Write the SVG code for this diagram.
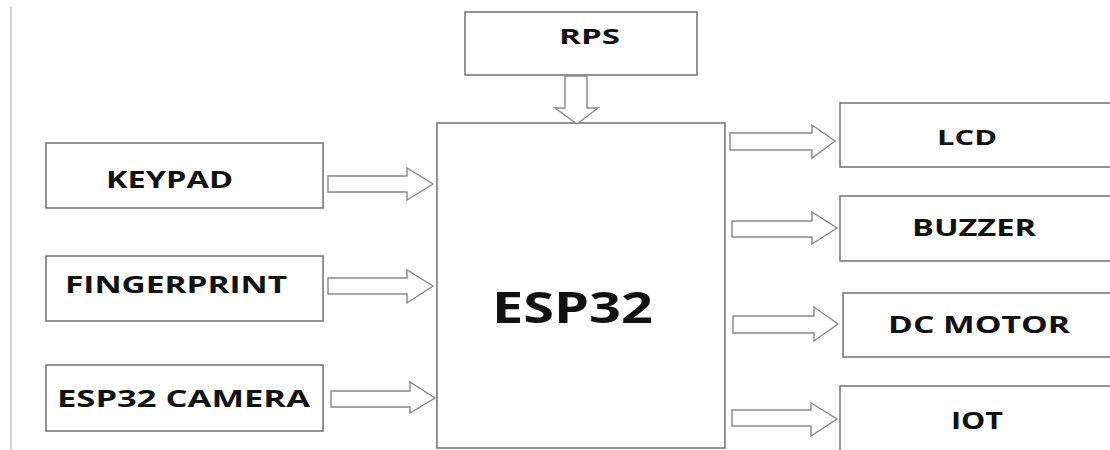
<svg xmlns="http://www.w3.org/2000/svg" width="1110" height="450" viewBox="0 0 1110 450">
<style>
.box{fill:#fff;stroke:#7a7a7a;stroke-width:1.6}
.lbl{font-family:"Open Sans","Liberation Sans",sans-serif;font-weight:bold;font-size:24px;fill:#111}
.big{font-size:43px}
.sm{font-size:21px}
.arr{fill:#fff;stroke:#888;stroke-width:1.4;stroke-linejoin:miter}
</style>
<rect width="1110" height="450" fill="#fff"/>
<line x1="11" y1="7" x2="11" y2="450" stroke="#d4d4d4" stroke-width="2"/>

<g id="rps"><rect class="box" x="465" y="12" width="232" height="63"/><text class="lbl sm" x="559" y="44" textLength="61" lengthAdjust="spacingAndGlyphs">RPS</text></g>
<g id="esp32"><rect class="box" x="437" y="123" width="288" height="325"/><text class="lbl big" x="492" y="323" textLength="161" lengthAdjust="spacingAndGlyphs">ESP32</text></g>
<g id="keypad"><rect class="box" x="46" y="143" width="277" height="65"/><text class="lbl" x="106" y="188" textLength="127" lengthAdjust="spacingAndGlyphs">KEYPAD</text></g>
<g id="fingerprint"><rect class="box" x="46" y="256" width="277" height="65"/><text class="lbl" x="65" y="293" textLength="222" lengthAdjust="spacingAndGlyphs">FINGERPRINT</text></g>
<g id="camera"><rect class="box" x="46" y="365" width="277" height="66"/><text class="lbl" x="57" y="407" textLength="253" lengthAdjust="spacingAndGlyphs">ESP32 CAMERA</text></g>
<g id="lcd"><rect class="box" x="840" y="103" width="280" height="64"/><text class="lbl sm" x="937" y="145" textLength="60" lengthAdjust="spacingAndGlyphs">LCD</text></g>
<g id="buzzer"><rect class="box" x="840" y="196" width="280" height="65"/><text class="lbl" x="912" y="236" textLength="124" lengthAdjust="spacingAndGlyphs">BUZZER</text></g>
<g id="dcmotor"><rect class="box" x="843" y="293" width="280" height="64"/><text class="lbl" x="888" y="333" textLength="182" lengthAdjust="spacingAndGlyphs">DC MOTOR</text></g>
<g id="iot"><rect class="box" x="840" y="386" width="280" height="70"/><text class="lbl" x="951" y="429" textLength="52" lengthAdjust="spacingAndGlyphs">IOT</text></g>

<g id="connectors">
<polygon class="arr" points="565,76 587,76 587,108 598,108 577,124 555,108 565,108"/>
<polygon class="arr" points="328,176 407,176 407,168 433,184 407,200 407,192 328,192"/>
<polygon class="arr" points="328,278 407,278 407,270 433,286 407,303 407,294 328,294"/>
<polygon class="arr" points="331,391 410,391 410,382 435,398 410,413 410,407 331,407"/>
<polygon class="arr" points="730,133 812,133 812,125 835,141 812,158 812,150 730,150"/>
<polygon class="arr" points="732,221 812,221 812,212 837,228 812,244 812,237 732,237"/>
<polygon class="arr" points="733,316 814,316 814,307 838,324 814,341 814,333 733,333"/>
<polygon class="arr" points="732,410 811,410 811,403 837,419 811,436 811,426 732,426"/>
</g>
</svg>
